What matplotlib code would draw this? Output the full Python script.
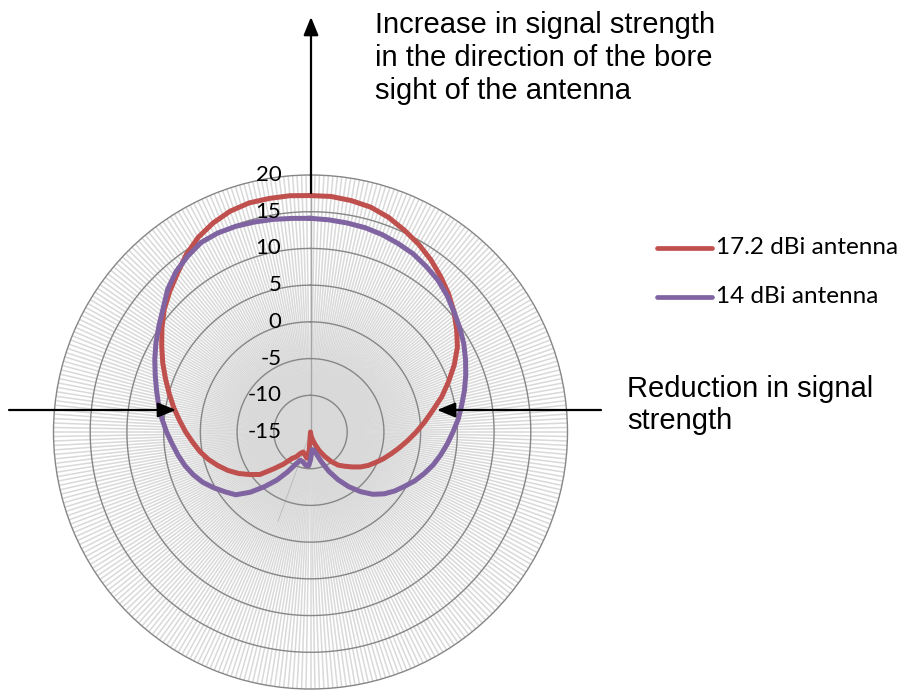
import numpy as np
import matplotlib
matplotlib.use('Agg')
from matplotlib import pyplot as plt
from matplotlib.patches import FancyArrowPatch

# antenna pattern, angle in degrees clockwise from bore sight, gain in dBi
red_deg = [0, 5, 10, 15, 20, 25, 30, 35, 40, 45, 50, 55, 60, 65, 70, 75, 80, 85, 90, 95,
           100, 105, 110, 115, 120, 125, 130, 135, 140, 145, 150, 155, 160, 165, 170, 175,
           180, 184, 188, 194, 200, 205, 210, 215, 220, 225, 230, 235, 240, 245, 250, 255,
           260, 265, 270, 275, 280, 285, 290, 295, 300, 305, 310, 315, 320, 325, 330, 335,
           340, 345, 350, 355]
red_db = [17.2, 17.2, 17.0, 16.7, 16.1, 15.3, 14.5, 13.6, 12.6, 11.6, 10.5, 9.3, 8.1, 6.6,
          5.0, 3.5, 1.9, 0.6, -0.6, -1.7, -2.7, -3.6, -4.4, -5.2, -5.9, -6.7, -7.6, -8.4,
          -9.1, -10.1, -11.2, -12.2, -13.2, -13.9, -14.4, -14.8, -15.0, -12.5, -11.4, -11.8,
          -12.1, -11.8, -11.1, -10.6, -9.3, -7.9, -6.0, -4.9, -3.7, -2.6, -1.6, -0.6, 0.3,
          1.1, 2.0, 2.9, 3.9, 4.9, 6.0, 7.2, 8.4, 9.7, 11.0, 12.1, 13.2, 14.5, 15.6, 16.4,
          17.0, 17.3, 17.3, 17.3]

purple_deg = [0, 5, 10, 15, 20, 25, 30, 35, 40, 45, 50, 55, 60, 65, 70, 75, 80, 85, 90, 95,
              100, 105, 110, 115, 120, 125, 130, 135, 140, 145, 150, 155, 160, 165, 170, 175,
              180, 183, 188, 194, 200, 205, 210, 215, 220, 225, 230, 235, 240, 245, 250, 255,
              260, 265, 270, 275, 280, 285, 290, 295, 300, 305, 310, 315, 320, 325, 330, 335,
              340, 345, 350, 355]
purple_db = [14.1, 14.0, 13.9, 13.8, 13.6, 13.3, 13.0, 12.5, 12.0, 11.3, 10.5, 9.8, 9.1, 8.3,
             7.5, 6.7, 5.9, 5.2, 4.4, 3.7, 3.0, 2.3, 1.5, 0.7, -0.2, -1.0, -1.9, -3.0, -4.4,
             -5.9, -7.5, -9.1, -10.7, -11.9, -12.5, -12.6, -11.2, -10.4, -10.4, -10.8, -10.9,
             -10.1, -8.7, -7.0, -5.3, -3.4, -1.7, -0.8, 0.2, 1.2, 2.0, 2.7, 3.3, 3.9, 4.6, 5.3,
             6.0, 6.7, 7.5, 8.4, 9.3, 10.2, 11.2, 12.5, 13.5, 14.2, 14.8, 14.9, 14.8, 14.6,
             14.4, 14.2]

series = ['17.2 dBi antenna', '14 dBi antenna']
colors = ['#C0504D', '#8064A2']
r_ticks = [20, 15, 10, 5, 0, -5, -10, -15]

W, H = 901, 690
fig = plt.figure(figsize=(W / 100, H / 100), dpi=100)

def fx(x):
    return x / W

def fy(y):
    return 1 - y / H

# polar area: centre (310.5, 432), radius 257 px
cx, cy, R = 310.5, 432, 257
ax = fig.add_axes([fx(cx - R), fy(cy + R), 2 * R / W, 2 * R / H], projection='polar')
ax.set_theta_zero_location('N')
ax.set_theta_direction(-1)
ax.set_ylim(-15, 20)
ax.set_xticks([])
ax.set_yticks([-10, -5, 0, 5, 10, 15])
ax.set_yticklabels([])
ax.grid(False)
ax.spines['polar'].set_color('#868686')
ax.spines['polar'].set_linewidth(1.0)

# one spoke per degree, like the excel radar chart
spokes = np.deg2rad(np.arange(0, 360, 1))
ax.vlines(spokes, -15, 20, colors='#D9D9D9', lw=1.1, zorder=1)
ax.vlines([0], -15, 20, colors='#A6A6A6', lw=1.0, zorder=2)
ax.vlines([np.deg2rad(200)], -15, -2, colors='#BDBDBD', lw=0.7, zorder=2)

th = np.linspace(0, 2 * np.pi, 400)
for v in [-10, -5, 0, 5, 10, 15]:
    ax.plot(th, np.full_like(th, v), color='#868686', lw=1.0, zorder=3)

for deg, db, c in [(red_deg, red_db, colors[0]), (purple_deg, purple_db, colors[1])]:
    t = np.deg2rad(deg + [deg[0]])
    ax.plot(t, db + [db[0]], color=c, lw=3.6, zorder=5, solid_joinstyle='round')

for v in r_ticks:
    ax.annotate(str(v), xy=(0, v), xytext=(-21, 0), textcoords='offset points',
                ha='right', va='center', fontsize=16, family=['Lato', 'DejaVu Sans'],
                color='black', zorder=6, annotation_clip=False)

# legend
for i, (name, c) in enumerate(zip(series, colors)):
    yy = 248 + i * 49
    fig.add_artist(plt.Line2D([fx(657), fx(712)], [fy(yy), fy(yy)], color=c, lw=3.4,
                              transform=fig.transFigure, solid_capstyle='round'))
    fig.text(fx(716), fy(yy), name, ha='left', va='center', fontsize=17.5,
             family=['Lato', 'DejaVu Sans'])

# arrows and notes
def arrow(x0, y0, x1, y1):
    a = FancyArrowPatch((fx(x0), fy(y0)), (fx(x1), fy(y1)), transform=fig.transFigure,
                        arrowstyle='-|>,head_length=1.1,head_width=0.45', mutation_scale=10,
                        color='black', lw=1.6, shrinkA=0, shrinkB=0)
    fig.add_artist(a)

arrow(311, 193, 311, 17)
arrow(9, 410, 176, 410)
arrow(601, 410, 437, 410)

fig.text(fx(375), fy(58), 'Increase in signal strength\nin the direction of the bore\nsight of the antenna',
         ha='left', va='center', fontsize=21, family='Liberation Sans', linespacing=1.22)
fig.text(fx(627), fy(405), 'Reduction in signal\nstrength', ha='left', va='center',
         fontsize=21, family='Liberation Sans', linespacing=1.22)

fig.savefig('out.png', dpi=100)
